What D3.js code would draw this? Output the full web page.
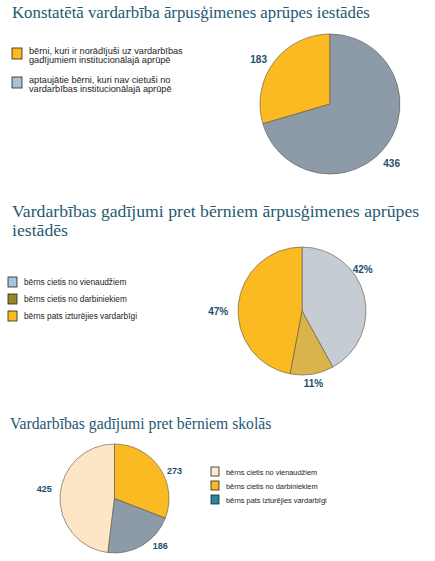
<!DOCTYPE html>
<html lang="lv">
<head>
  <meta charset="UTF-8">
  <title>Vardarbības gadījumi</title>
  <script src="https://d3js.org/d3.v7.min.js"></script>
  <style>
    body { margin: 0; padding: 0; background: #fff; }
    .title { font-family: "Liberation Serif", serif; fill: #1f5a72; }
    .legend-text { font-family: "Liberation Sans", Arial, sans-serif; fill: #222; }
    .pie-label { font-family: "Liberation Sans", Arial, sans-serif; font-weight: bold; fill: #1d4f6b; }
  </style>
</head>
<body>
  <div id="chart"></div>

  <script>
    // --- chart 1: Konstatētā vardarbība ārpusģimenes aprūpes iestādēs
    const instCategories = [
      ["bērni, kuri ir norādījuši uz vardarbības", "gadījumiem institucionālajā aprūpē"],
      ["aptaujātie bērni, kuri nav cietuši no", "vardarbības institucionālajā aprūpē"]
    ];
    const instValues = [183, 436];
    const instLabels = ["183", "436"];

    // --- chart 2: Vardarbības gadījumi pret bērniem ārpusģimenes aprūpes iestādēs
    const caseCategories = [
      ["bērns cietis no vienaudžiem"],
      ["bērns cietis no darbiniekiem"],
      ["bērns pats izturējies vardarbīgi"]
    ];
    const caseValues = [42, 11, 47];
    const caseLabels = ["42%", "11%", "47%"];

    // --- chart 3: Vardarbības gadījumi pret bērniem skolās
    const schoolCategories = [
      ["bērns cietis no vienaudžiem"],
      ["bērns cietis no darbiniekiem"],
      ["bērns pats izturējies vardarbīgi"]
    ];
    const schoolValues = [425, 273, 186];
    const schoolLabels = ["425", "273", "186"];

    const width = 435;
    const height = 561;

    const svg = d3.select("#chart")
      .append("svg")
      .attr("width", width)
      .attr("height", height);

    function drawChart(cfg) {
      const g = svg.append("g");

      // title (may be several lines)
      cfg.title.forEach((line, i) => {
        g.append("text")
          .attr("class", "title")
          .attr("x", cfg.titleX)
          .attr("y", cfg.titleY + i * 19)
          .style("font-size", cfg.titleSize + "px")
          .text(line);
      });

      // pie; first slice ends at 12 o'clock unless firstFromTop
      const total = d3.sum(cfg.values);
      const start = cfg.firstFromTop ? 0 : -2 * Math.PI * cfg.values[0] / total;
      const pie = d3.pie().sort(null).startAngle(start).endAngle(start + 2 * Math.PI);
      const arcs = pie(cfg.values);
      const arc = d3.arc().innerRadius(0).outerRadius(cfg.r);

      const pg = g.append("g").attr("transform", `translate(${cfg.cx},${cfg.cy})`);
      pg.selectAll("path")
        .data(arcs)
        .enter()
        .append("path")
        .attr("d", arc)
        .attr("fill", (d, i) => cfg.sliceColors[i])
        .attr("stroke", "#5e5446")
        .attr("stroke-width", 0.6);

      const labelAngle = (d, i) => (d.startAngle + d.endAngle) / 2 + cfg.labelTurn[i] * Math.PI / 180;

      pg.selectAll(".pie-label")
        .data(arcs)
        .enter()
        .append("text")
        .attr("class", "pie-label")
        .attr("text-anchor", "middle")
        .attr("dy", "0.35em")
        .style("font-size", cfg.labelSize + "px")
        .attr("x", (d, i) => Math.sin(labelAngle(d, i)) * cfg.r * cfg.labelR[i])
        .attr("y", (d, i) => -Math.cos(labelAngle(d, i)) * cfg.r * cfg.labelR[i])
        .text((d, i) => cfg.labels[i]);

      // legend
      const lg = g.append("g").attr("transform", `translate(${cfg.legendX},${cfg.legendY})`);
      const items = lg.selectAll(".legend-item")
        .data(cfg.categories)
        .enter()
        .append("g")
        .attr("class", "legend-item")
        .attr("transform", (d, i) => `translate(0,${i * cfg.legendStep})`);

      items.append("rect")
        .attr("width", cfg.swatch[0])
        .attr("height", cfg.swatch[1])
        .attr("fill", (d, i) => cfg.legendColors[i])
        .attr("stroke", "#222")
        .attr("stroke-width", 0.8);

      items.each(function (lines) {
        const t = d3.select(this);
        lines.forEach((line, j) => {
          t.append("text")
            .attr("class", "legend-text")
            .attr("x", cfg.swatch[0] + 7)
            .attr("y", cfg.swatch[1] / 2 + 3 + j * 9 - (lines.length - 1) * 3)
            .style("font-size", cfg.legendSize + "px")
            .text(line);
        });
      });
    }

    drawChart({
      title: ["Konstatētā vardarbība ārpusģimenes aprūpes iestādēs"],
      titleX: 12, titleY: 18, titleSize: 16.8,
      values: instValues, labels: instLabels, categories: instCategories,
      firstFromTop: false,
      cx: 330, cy: 104, r: 70,
      sliceColors: ["#fbb922", "#8d9aa7"],
      legendColors: ["#fbb922", "#a9c2d3"],
      labelTurn: [-5, 7], labelR: [1.2, 1.22], labelSize: 10,
      legendX: 12, legendY: 48, legendStep: 29, swatch: [10, 11], legendSize: 9.2
    });

    drawChart({
      title: ["Vardarbības gadījumi pret bērniem ārpusģimenes aprūpes", "iestādēs"],
      titleX: 12, titleY: 217, titleSize: 17.7,
      values: caseValues, labels: caseLabels, categories: caseCategories,
      firstFromTop: true,
      cx: 302, cy: 311, r: 64,
      sliceColors: ["#c5ccd3", "#d9b44a", "#fbb922"],
      legendColors: ["#a9c4d6", "#9c8526", "#fbb922"],
      labelTurn: [-20, 0, -6], labelR: [1.15, 1.14, 1.31], labelSize: 10,
      legendX: 8, legendY: 277, legendStep: 17, swatch: [9, 10], legendSize: 8.3
    });

    drawChart({
      title: ["Vardarbības gadījumi pret bērniem skolās"],
      titleX: 10, titleY: 429, titleSize: 15.7,
      values: schoolValues, labels: schoolLabels, categories: schoolCategories,
      firstFromTop: false,
      cx: 114.5, cy: 498.5, r: 54.5,
      sliceColors: ["#fde6c6", "#fbb922", "#8d9aa7"],
      legendColors: ["#fde8cc", "#fbb922", "#2a86a0"],
      labelTurn: [4, 10, -13], labelR: [1.3, 1.21, 1.21], labelSize: 9,
      legendX: 211, legendY: 467, legendStep: 14, swatch: [8, 9], legendSize: 7.4
    });
  </script>
</body>
</html>
